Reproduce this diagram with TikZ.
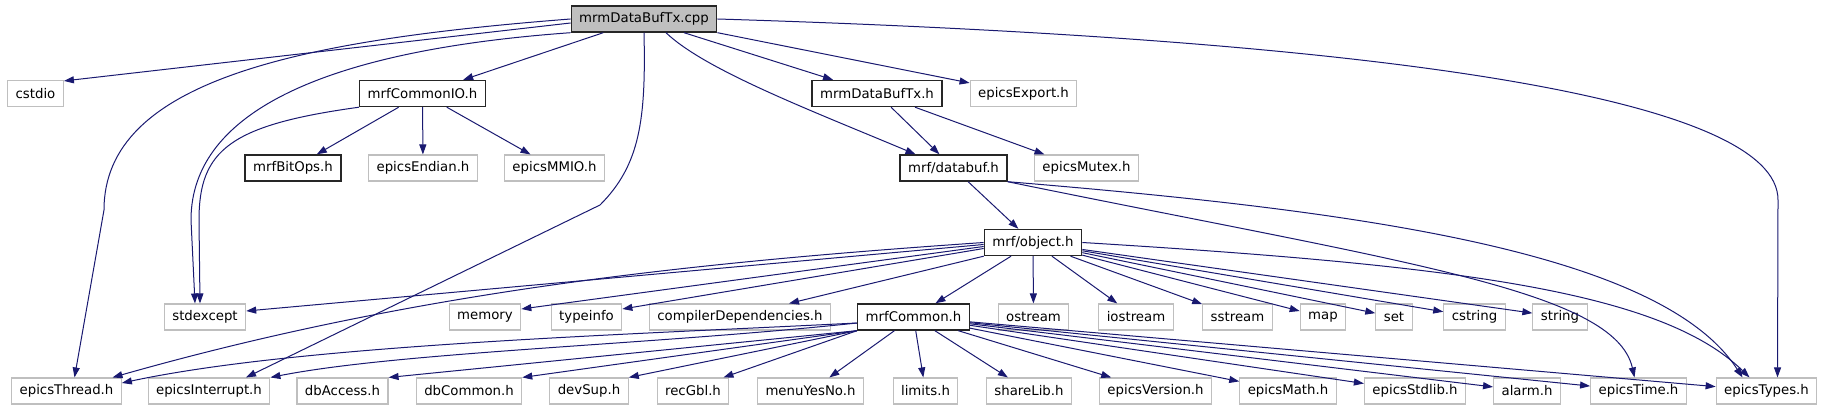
\documentclass[tikz,border=0pt]{standalone}
\usepackage{fontspec}
\setmainfont{DejaVu Sans}
\usetikzlibrary{arrows.meta}
\definecolor{edgeblue}{HTML}{191970}
\definecolor{boxgray}{HTML}{BFBFBF}

\begin{document}
\begin{tikzpicture}[
  x=1pt, y=-1pt,
  font=\fontsize{13.3}{16}\selectfont,
  file/.style={draw, fill=white, minimum height=26pt, inner xsep=8pt, inner ysep=0pt},
  ext/.style={file, draw=boxgray, line width=1.1pt},
  hdr/.style={file, draw=black!85, line width=1.4pt},
  main/.style={hdr, fill=boxgray},
  dep/.style={-{Triangle[length=10pt,width=7pt]}, draw=edgeblue, line width=1pt}
]
\useasboundingbox (0,0) rectangle (1825,411);

% the source file
\node[main] (cpp) at (644,19) {mrmDataBufTx.cpp};

% first level
\node[ext] (cstdio) at (35.5,93.5) {cstdio};
\node[hdr] (commonio) at (422.5,93.5) {mrfCommonIO.h};
\node[hdr] (bufh) at (877,93.5) {mrmDataBufTx.h};
\node[ext] (export) at (1023.5,93.5) {epicsExport.h};

\node[hdr] (bitops) at (293,168) {mrfBitOps.h};
\node[ext] (endian) at (423,168) {epicsEndian.h};
\node[ext] (mmio) at (554.5,168) {epicsMMIO.h};
\node[hdr] (databuf) at (953.5,168) {mrf/databuf.h};
\node[ext] (mutex) at (1086.5,168) {epicsMutex.h};

\node[hdr] (object) at (1033,242.5) {mrf/object.h};

\node[ext] (stdexcept) at (205,317) {stdexcept};
\node[ext] (memory) at (485,317) {memory};
\node[ext] (typeinfo) at (586.5,317) {typeinfo};
\node[ext] (compdeps) at (740,317) {compilerDependencies.h};
\node[hdr] (common) at (913.5,317) {mrfCommon.h};
\node[ext] (ostream) at (1033.5,317) {ostream};
\node[ext] (iostream) at (1136,317) {iostream};
\node[ext] (sstream) at (1237.5,317) {sstream};
\node[ext] (map) at (1323,317) {map};
\node[ext] (set) at (1394,317) {set};
\node[ext] (cstring) at (1474.5,317) {cstring};
\node[ext] (string) at (1560,317) {string};

% bottom row
\node[ext] (thread) at (66.5,391) {epicsThread.h};
\node[ext] (interrupt) at (209,391) {epicsInterrupt.h};
\node[ext] (dbaccess) at (342.5,391) {dbAccess.h};
\node[ext] (dbcommon) at (469,391) {dbCommon.h};
\node[ext] (devsup) at (589,391) {devSup.h};
\node[ext] (recgbl) at (693,391) {recGbl.h};
\node[ext] (menuyesno) at (810.5,391) {menuYesNo.h};
\node[ext] (limits) at (925.5,391) {limits.h};
\node[ext] (sharelib) at (1029,391) {shareLib.h};
\node[ext] (version) at (1155.5,391) {epicsVersion.h};
\node[ext] (math) at (1288,391) {epicsMath.h};
\node[ext] (stdlib) at (1415,391) {epicsStdlib.h};
\node[ext] (alarm) at (1527,391) {alarm.h};
\node[ext] (time) at (1638.5,391) {epicsTime.h};
\node[ext] (types) at (1766.5,391) {epicsTypes.h};

% includes of the source file
\draw[dep] ([yshift=-4pt]cpp.west) -- ([yshift=-1pt]cstdio.north east);
\draw[dep] (cpp.west) .. controls (300,40) and (104,80) .. (104,210) -- ([xshift=8pt]thread.north);
\draw[dep] (cpp.south west) .. controls (330,50) and (191,110) .. (191,220) -- ([xshift=-10pt]stdexcept.north);
\draw[dep] (cpp) -- (commonio);
\draw[dep] (cpp.south) .. controls (646,120) and (640,165) .. (600,205) -- ([xshift=37pt]interrupt.north);
\draw[dep] ([xshift=22pt]cpp.south) .. controls (705,70) and (810,110) .. ([xshift=-38pt]databuf.north);
\draw[dep] ([xshift=40pt]cpp.south) -- ([xshift=-44pt]bufh.north);
\draw[dep] (cpp.south east) -- ([yshift=-3pt]export.north west);
\draw[dep] (cpp.east) .. controls (1400,40) and (1778,100) .. (1778,200) -- ([xshift=11pt]types.north);

% headers
\draw[dep] (commonio.south west) .. controls (230,125) and (199,150) .. (199,220) -- ([xshift=-5pt]stdexcept.north);
\draw[dep] (commonio) -- (bitops);
\draw[dep] (commonio) -- (endian);
\draw[dep] (commonio) -- (mmio);
\draw[dep] (bufh) -- (databuf);
\draw[dep] ([xshift=38pt]bufh.south) -- ([xshift=-42pt]mutex.north);
\draw[dep] (databuf) -- (object);
\draw[dep] (databuf.south east) .. controls (1350,210) and (1660,250) .. ([xshift=-24pt]types.north);
\draw[dep] (databuf.south east) .. controls (1400,262) and (1615,290) .. ([xshift=-4pt]time.north);

% mrf/object.h
\draw[dep] ([yshift=-2pt]object.west) -- ([yshift=6pt]stdexcept.east);
\draw[dep] (object.west) .. controls (700,262) and (420,290) .. ([xshift=46pt]thread.north);
\draw[dep] ([yshift=-4pt]object.west) -- ([yshift=8pt]memory.east);
\draw[dep] ([yshift=-6pt]object.west) -- ([yshift=8pt]typeinfo.east);
\draw[dep] (object.south west) -- ([xshift=49pt]compdeps.north);
\draw[dep] (object) -- (common);
\draw[dep] (object) -- (ostream);
\draw[dep] (object) -- (iostream);
\draw[dep] (object) -- (sstream);
\draw[dep] (object) -- (map);
\draw[dep] (object) -- (set);
\draw[dep] (object) -- (cstring);
\draw[dep] (object) -- (string);
\draw[dep] (object.east) .. controls (1450,265) and (1660,290) .. ([xshift=-17pt]types.north);

% mrfCommon.h
\draw[dep] ([yshift=-6pt]common.west) .. controls (620,335) and (300,345) .. ([yshift=8pt]thread.east);
\draw[dep] ([yshift=-6pt]common.west) .. controls (650,345) and (400,352) .. (interrupt.north east);
\draw[dep] (common.south west) -- (dbaccess.north east);
\draw[dep] (common.south west) -- (dbcommon.north east);
\draw[dep] (common.south west) -- (devsup.north east);
\draw[dep] (common.south west) -- ([xshift=-6pt]recgbl.north east);
\draw[dep] (common) -- (menuyesno);
\draw[dep] (common) -- (limits);
\draw[dep] (common) -- (sharelib);
\draw[dep] (common) -- (version);
\draw[dep] (common) -- (math);
\draw[dep] (common) -- (stdlib);
\draw[dep] (common) -- (alarm);
\draw[dep] (common) -- (time);
\draw[dep] (common) -- (types);

\end{tikzpicture}
\end{document}
